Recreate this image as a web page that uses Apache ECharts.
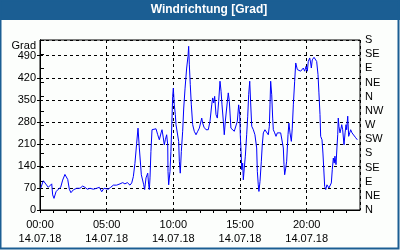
<!DOCTYPE html>
<html>
<head>
<meta charset="utf-8">
<script src="https://cdn.jsdelivr.net/npm/echarts@6/dist/echarts.min.js"></script>
<style>html,body{margin:0;padding:0;background:#fff;}#c{width:400px;height:250px;}</style>
</head>
<body>
<div id="c"></div>
<script>
const titleText = 'Windrichtung [Grad]';
const yName = 'Grad';
const dateLabel = '14.07.18';
const compassLabels = ['N','NE','E','SE','S','SW','W','NW','N','NE','E','SE','S'];
const hours = [0.05,0.25,0.375,0.62,0.75,0.88,0.95,1.05,1.2,1.37,1.55,1.7,1.87,2.08,2.2,2.32,2.5,2.75,3.0,3.2,3.37,3.55,3.75,4.0,4.25,4.45,4.63,4.8,4.95,5.12,5.3,5.5,5.75,6.0,6.2,6.37,6.55,6.75,6.88,7.0,7.12,7.25,7.35,7.45,7.6,7.78,7.85,7.95,8.08,8.15,8.2,8.25,8.32,8.4,8.7,8.83,8.95,9.08,9.15,9.25,9.32,9.4,9.5,9.58,9.6,9.65,9.75,9.82,9.9,9.95,10.0,10.07,10.15,10.2,10.33,10.4,10.45,10.52,10.6,10.7,10.78,10.88,11.0,11.1,11.15,11.2,11.27,11.35,11.45,11.57,11.7,11.83,11.95,12.08,12.13,12.2,12.3,12.45,12.62,12.75,12.88,12.95,13.03,13.1,13.2,13.3,13.4,13.5,13.58,13.65,13.75,13.82,13.9,14.0,14.12,14.2,14.25,14.32,14.45,14.57,14.7,14.8,14.9,14.98,15.02,15.08,15.13,15.2,15.25,15.32,15.4,15.5,15.58,15.65,15.73,15.8,15.88,16.0,16.12,16.18,16.25,16.3,16.37,16.42,16.5,16.6,16.67,16.75,16.87,17.0,17.12,17.2,17.25,17.3,17.38,17.45,17.5,17.6,17.7,17.8,17.92,18.05,18.17,18.25,18.3,18.35,18.43,18.5,18.6,18.67,18.75,18.85,18.92,19.0,19.1,19.18,19.3,19.42,19.55,19.67,19.75,19.85,19.95,20.05,20.12,20.23,20.3,20.35,20.42,20.55,20.65,20.75,20.85,20.92,21.0,21.05,21.15,21.22,21.28,21.35,21.43,21.52,21.6,21.67,21.77,21.85,21.92,22.0,22.07,22.12,22.2,22.27,22.33,22.37,22.42,22.5,22.58,22.63,22.7,22.8,22.88,22.95,23.0,23.08,23.15,23.23,23.3,23.4,23.53,23.65,23.8];
const degrees = [69,93,87,72,66,83,48,37,58,66,72,95,113,97,66,55,64,69,69,76,72,66,69,66,69,72,58,69,64,66,72,79,79,83,87,83,87,79,86,106,148,212,260,197,112,80,65,102,117,80,65,102,186,255,258,239,223,245,255,229,207,223,239,207,123,80,123,186,292,361,387,334,303,271,271,218,155,117,186,250,324,387,451,488,520,461,398,334,271,250,239,250,260,266,292,276,263,255,255,282,334,356,340,361,303,292,345,409,377,334,282,239,282,324,372,345,308,260,255,250,245,282,334,303,239,186,128,149,96,133,171,239,298,366,409,340,266,255,239,239,197,123,80,59,91,155,207,245,255,255,239,266,334,409,366,292,255,245,234,245,239,245,239,197,144,112,133,155,239,276,245,218,260,334,409,467,446,441,441,446,451,441,456,441,472,483,467,451,477,485,483,472,430,372,303,234,223,181,133,75,65,80,86,70,65,86,128,165,149,171,144,197,239,292,266,245,260,271,255,207,245,271,255,298,234,245,255,245,239,231,223];

const blue = '#1b5e93';
const seriesData = hours.map((h, i) => [h, degrees[i]]);
const font = 'Liberation Sans, Arial, sans-serif';

const chart = echarts.init(document.getElementById('c'), null, {renderer: 'canvas'});
chart.setOption({
  animation: false,
  backgroundColor: '#fcfefc',
  graphic: [
    {type: 'rect', shape: {x: 0, y: 0, width: 400, height: 20}, style: {fill: blue}, z: 0},
    {type: 'rect', shape: {x: 0.5, y: 0.5, width: 398, height: 248}, style: {fill: null, stroke: blue, lineWidth: 2}, z: 0},
    {type: 'text', x: 209, y: 10, style: {text: titleText, fill: '#fff', font: 'bold 12px ' + font, textAlign: 'center', textVerticalAlign: 'middle'}},
    {type: 'text', x: 36, y: 46, style: {text: yName, fill: '#000', font: '11px ' + font, textAlign: 'right', textVerticalAlign: 'middle'}}
  ],
  grid: {left: 40, right: 40, top: 40, bottom: 40, show: true, borderColor: '#000', borderWidth: 1, backgroundColor: 'transparent'},
  xAxis: [
    {
      type: 'value', min: 0, max: 24, interval: 1, position: 'bottom',
      axisLine: {show: true, lineStyle: {color: '#000', width: 1}},
      axisTick: {show: true, length: 3, lineStyle: {color: '#000'}},
      splitLine: {show: false},
      axisLabel: {
        color: '#000', fontSize: 11, fontFamily: font, margin: 8, lineHeight: 14,
        showMaxLabel: false,
        formatter: v => (v % 5 === 0 ? String(v).padStart(2, '0') + ':00\n' + dateLabel : '')
      }
    },
    {
      type: 'value', min: 0, max: 24, interval: 5, position: 'bottom',
      axisLine: {show: false}, axisTick: {show: false}, axisLabel: {show: false},
      splitLine: {show: true, lineStyle: {color: '#000', type: [3, 3], width: 1}}
    }
  ],
  yAxis: [
    {
      type: 'value', min: 0, max: 540, interval: 70, position: 'left',
      axisLine: {show: true, lineStyle: {color: '#000'}},
      axisTick: {show: true, length: 3, lineStyle: {color: '#000'}},
      splitLine: {show: true, lineStyle: {color: '#000', type: [3, 3], width: 1}},
      axisLabel: {color: '#000', fontSize: 11, fontFamily: font, margin: 4, showMaxLabel: false}
    },
    {
      type: 'value', min: 0, max: 540, interval: 45, position: 'right',
      axisLine: {show: true, lineStyle: {color: '#000'}},
      axisTick: {show: true, length: 4, lineStyle: {color: '#000'}},
      splitLine: {show: false},
      axisLabel: {color: '#000', fontSize: 11, fontFamily: font, margin: 5,
        formatter: v => compassLabels[Math.round(v / 45)]}
    }
  ],
  series: [{
    type: 'line', data: seriesData, xAxisIndex: 0, yAxisIndex: 0,
    showSymbol: false, symbol: 'none',
    lineStyle: {color: '#0000ff', width: 1}
  }]
});
</script>
</body>
</html>
